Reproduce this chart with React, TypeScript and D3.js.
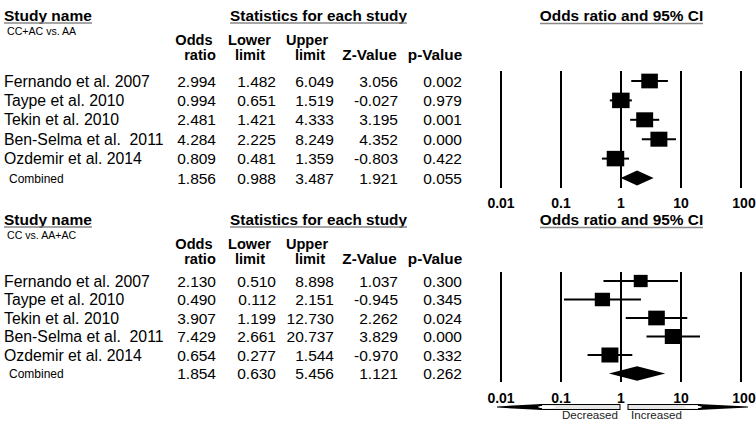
import React from "react";
import * as d3 from "d3";

const studies = ["Fernando et al. 2007", "Taype et al. 2010", "Tekin et al. 2010", "Ben-Selma et al.  2011", "Ozdemir et al. 2014"];
const comparisons = ["CC+AC vs. AA", "CC vs. AA+AC"];

const or1 = [2.994, 0.994, 2.481, 4.284, 0.809];
const lo1 = [1.482, 0.651, 1.421, 2.225, 0.481];
const up1 = [6.049, 1.519, 4.333, 8.249, 1.359];
const z1 = [3.056, -0.027, 3.195, 4.352, -0.803];
const p1 = [0.002, 0.979, 0.001, 0.0, 0.422];
const w1 = [14.7, 15.5, 15, 15, 15.5];
const comb1 = [1.856, 0.988, 3.487, 1.921, 0.055];

const or2 = [2.13, 0.49, 3.907, 7.429, 0.654];
const lo2 = [0.51, 0.112, 1.199, 2.661, 0.277];
const up2 = [8.898, 2.151, 12.73, 20.737, 1.544];
const z2 = [1.037, -0.945, 2.262, 3.829, -0.97];
const p2 = [0.3, 0.345, 0.024, 0.0, 0.332];
const w2 = [12.3, 13.5, 14.7, 15, 15];
const comb2 = [1.854, 0.63, 5.456, 1.121, 0.262];

const ticks = [0.01, 0.1, 1, 10, 100];
const tickLabels = ["0.01", "0.1", "1", "10", "100"];

const FONT = "'Liberation Sans', Arial, sans-serif";
const x = d3.scaleLog().domain([0.01, 100]).range([501, 741]);
const colRight = [216, 276, 334, 398, 462];

type PanelProps = {
  off: number;
  rowTop: number;
  rowBottom: number;
  lineTop: number;
  lineBottom: number;
  tickY: number;
  comp: string;
  or: number[];
  lo: number[];
  up: number[];
  z: number[];
  p: number[];
  w: number[];
  comb: number[];
  diamondH: number;
};

function Panel(props: PanelProps) {
  const { off, rowTop, rowBottom, lineTop, lineBottom, tickY, comp, or, lo, up, z, p, w, comb, diamondH } = props;
  const labels = [...studies, "Combined"];
  const y = d3.scalePoint<string>().domain(labels).range([rowTop, rowBottom]);
  const fmt = (v: number) => v.toFixed(3);
  const rows = studies.map((s, i) => [or[i], lo[i], up[i], z[i], p[i]]);
  const hdrB = "bold";
  return (
    <g fontFamily={FONT}>
      <text x={4} y={off + 20.5} fontSize={15.5} fontWeight={hdrB}>Study name</text>
      <line x1={4} x2={92} y1={off + 23} y2={off + 23} stroke="#888" strokeWidth={1.5} />
      <text x={7} y={off + 35} fontSize={10.6}>{comp}</text>
      <text x={318.5} y={off + 20.5} fontSize={15.3} fontWeight={hdrB} textAnchor="middle">Statistics for each study</text>
      <line x1={230} x2={407} y1={off + 23} y2={off + 23} stroke="#888" strokeWidth={1.5} />
      <text x={621.5} y={off + 20.5} fontSize={15.4} fontWeight={hdrB} textAnchor="middle">Odds ratio and 95% CI</text>
      <line x1={540} x2={703} y1={off + 23.5} y2={off + 23.5} stroke="#888" strokeWidth={1.5} />
      <g fontSize={14.6} fontWeight={hdrB} textAnchor="middle">
        <text x={194} y={off + 44.5}>Odds</text>
        <text x={200} y={off + 60}>ratio</text>
        <text x={249.5} y={off + 44.5}>Lower</text>
        <text x={250} y={off + 60}>limit</text>
        <text x={307} y={off + 44.5}>Upper</text>
        <text x={310} y={off + 60}>limit</text>
        <text x={369.5} y={off + 60} fontSize={15.3}>Z-Value</text>
        <text x={435} y={off + 60} fontSize={15.3}>p-Value</text>
      </g>
      {studies.map((s, i) => (
        <g key={s}>
          <text x={4} y={(y(s) as number) + 5.5} fontSize={15.8} style={{ whiteSpace: "pre" }}>{s}</text>
          {rows[i].map((v, j) => (
            <text key={j} x={colRight[j]} y={(y(s) as number) + 5.5} fontSize={15.5} textAnchor="end">{fmt(v)}</text>
          ))}
        </g>
      ))}
      <text x={9} y={(y("Combined") as number) + 4.5} fontSize={12}>Combined</text>
      {comb.map((v, j) => (
        <text key={j} x={colRight[j]} y={(y("Combined") as number) + 5.5} fontSize={15.5} textAnchor="end">{fmt(v)}</text>
      ))}
      {ticks.map((t) => (
        <line key={t} x1={x(t)} x2={x(t)} y1={lineTop} y2={lineBottom} stroke="#000" strokeWidth={2} />
      ))}
      {ticks.map((t, i) => (
        <text key={"l" + t} x={x(t) + (i === 4 ? 3 : 0)} y={tickY} fontSize={14} fontWeight="bold" textAnchor="middle">{tickLabels[i]}</text>
      ))}
      {studies.map((s, i) => {
        const cy = y(s) as number;
        const cx = x(or[i]);
        const h = w[i];
        const wd = h * 1.13;
        return (
          <g key={"m" + s}>
            <line x1={x(lo[i])} x2={x(up[i])} y1={cy} y2={cy} stroke="#000" strokeWidth={2} />
            <rect x={cx - wd / 2} y={cy - h / 2} width={wd} height={h} fill="#000" />
          </g>
        );
      })}
      {(() => {
        const cy = y("Combined") as number;
        const pts = [
          [x(comb[1]), cy],
          [x(comb[0]), cy - diamondH / 2],
          [x(comb[2]), cy],
          [x(comb[0]), cy + diamondH / 2],
        ];
        return <polygon points={pts.map((q) => q.join(",")).join(" ")} fill="#000" />;
      })()}
    </g>
  );
}

function Arrows() {
  const ay = 407;
  const l0 = x(0.01) - 4;
  const lBase = 540;
  const lEnd = x(1) - 1;
  const r0 = x(1) + 7;
  const rBase = 700;
  const rEnd = x(100) + 7;
  return (
    <g>
      <rect x={lBase} y={ay - 2.5} width={lEnd - lBase} height={5} fill="#e6e6e6" stroke="#000" strokeWidth={1} />
      <polygon points={`${l0},${ay - 0.6} ${lBase + 2},${ay - 3} ${lBase + 2},${ay + 3} ${l0},${ay + 0.6}`} fill="#000" />
      <ellipse cx={lBase + 7} cy={ay} rx={9} ry={1.5} fill="#fff" />
      <rect x={r0} y={ay - 2.5} width={rBase - r0} height={5} fill="#e6e6e6" stroke="#000" strokeWidth={1} />
      <polygon points={`${rBase - 2},${ay - 3} ${rEnd},${ay - 0.6} ${rEnd},${ay + 0.6} ${rBase - 2},${ay + 3}`} fill="#000" />
      <ellipse cx={rBase - 7} cy={ay} rx={9} ry={1.5} fill="#fff" />
      <text x={618} y={419} fontSize={11.6} fontFamily={FONT} textAnchor="end" fill="#222">Decreased</text>
      <text x={631} y={419} fontSize={11.6} fontFamily={FONT} fill="#222">Increased</text>
    </g>
  );
}

export default function App() {
  return (
    <svg width={756} height={425} style={{ position: "absolute", left: 0, top: 0, background: "#fff" }}>
      <rect width={756} height={425} fill="#fff" />
      <Panel off={0} rowTop={81} rowBottom={178} lineTop={71} lineBottom={188} tickY={208}
        comp={comparisons[0]} or={or1} lo={lo1} up={up1} z={z1} p={p1} w={w1} comb={comb1} diamondH={15} />
      <Panel off={204} rowTop={281} rowBottom={373.5} lineTop={272} lineBottom={382} tickY={403}
        comp={comparisons[1]} or={or2} lo={lo2} up={up2} z={z2} p={p2} w={w2} comb={comb2} diamondH={14.3} />
      <Arrows />
    </svg>
  );
}
